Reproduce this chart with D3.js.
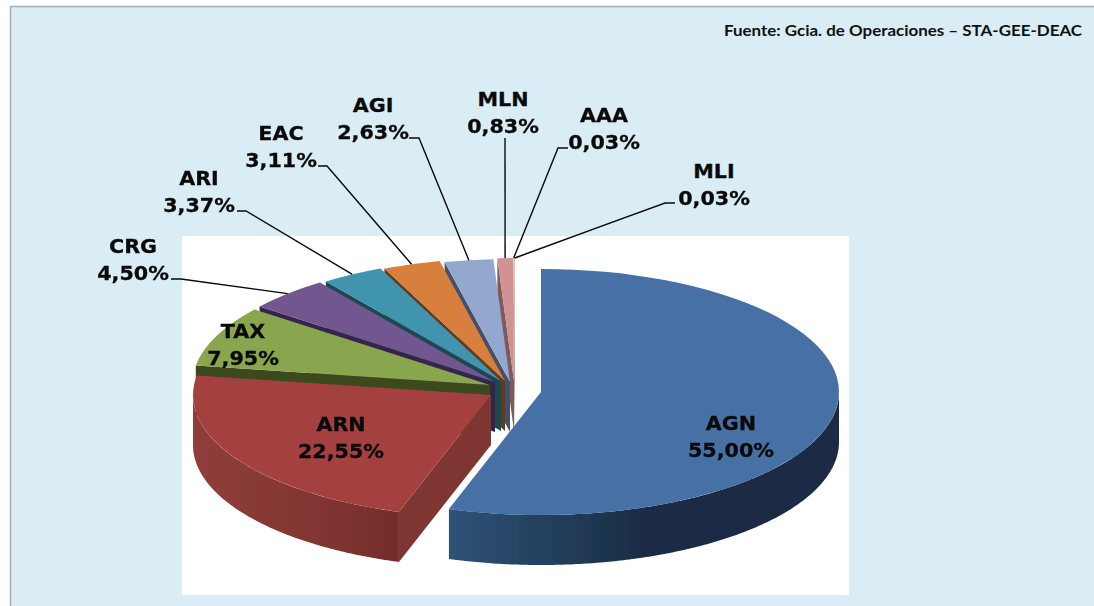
<!DOCTYPE html>
<html>
<head>
<meta charset="utf-8">
<script src="https://cdn.jsdelivr.net/npm/d3@7"></script>
<style>
  html, body { margin: 0; padding: 0; background: #fff; overflow: hidden; }
  svg { display: block; }
</style>
</head>
<body>
<div id="chart"></div>
<script>
// values
const categories = ["AGN", "ARN", "TAX", "CRG", "ARI", "EAC", "AGI", "MLN", "AAA", "MLI"];
const shares = [55.00, 22.55, 7.95, 4.50, 3.37, 3.11, 2.63, 0.83, 0.03, 0.03];
const sourceNote = "Fuente: Gcia. de Operaciones \u2013 STA-GEE-DEAC";

// styling, same order as categories
const topColors = ["#466fa5", "#a5413f", "#89a54e", "#71578f", "#4194ae", "#d7803d", "#93a8cf", "#d09293", "#d09293", "#d09293"];
const wallColors = ["#1a2c44", "#7f3432", "#3b4a1f", "#35254a", "#1d4653", "#623a1a", "#454f68", "#7f5a5a", "#7f5a5a", "#7f5a5a"];

// layout
const width = 1094, height = 606;
const rx = 298, ry = 123, depth = 50;
const explodedCenters = [[541, 392], [491, 395], [490, 385], [495, 382], [501, 381], [505, 381], [510, 382], [514, 381], [514.5, 381], [515, 381]];
const labelAt = [[731, 430], [341, 431], [243, 338], [133, 253], [199, 185], [281, 140], [373, 112], [503, 106], [604, 122], [714, 178]];
const lineGap = 27;
// where a leader leaves its label [x, y, elbow x], null for labels sitting on the slice
const leaderStart = [null, null, null, [171, 279, 181], [237, 211, 246], [318, 166, 327], [409, 138, 419], [505, 138, 505], [568, 148, 558], [675, 203, 665]];

const pct = d3.formatLocale({decimal: ",", thousands: ".", grouping: [3], currency: ["", ""]}).format(".2f");

const svg = d3.select("#chart").append("svg").attr("width", width).attr("height", height);

// panel
svg.append("rect").attr("x", 11).attr("y", 7).attr("width", width - 11).attr("height", height - 7).attr("fill", "#daedf4");
svg.append("line").attr("x1", 10.5).attr("x2", width).attr("y1", 6.5).attr("y2", 6.5).attr("stroke", "#a6adb1").attr("stroke-width", 1.5);
svg.append("line").attr("x1", 10.5).attr("x2", 10.5).attr("y1", 6).attr("y2", height).attr("stroke", "#a6adb1").attr("stroke-width", 1.5);
svg.append("rect").attr("x", 182).attr("y", 236).attr("width", 667).attr("height", 359).attr("fill", "#fff");

svg.append("text")
  .attr("x", 724).attr("y", 36)
  .attr("textLength", 358)
  .attr("lengthAdjust", "spacingAndGlyphs")
  .style("font-family", "Lato, sans-serif")
  .style("font-weight", 700)
  .style("font-size", "16px")
  .attr("fill", "#111")
  .text(sourceNote);

const defs = svg.append("defs");
defs.append("filter").attr("id", "soft").append("feGaussianBlur").attr("stdDeviation", 0.5);

function sideGradient(id, x1, x2, stops) {
  let g = defs.append("linearGradient").attr("id", id)
    .attr("gradientUnits", "userSpaceOnUse")
    .attr("x1", x1).attr("x2", x2).attr("y1", 0).attr("y2", 0);
  stops.forEach(s => g.append("stop").attr("offset", s[0]).attr("stop-color", s[1]));
}
sideGradient("wallAGN", 449, 838, [[0, "#2f5276"], [0.25, "#24405f"], [0.5, "#1a2c44"], [1, "#1a2c44"]]);
sideGradient("wallARN", 194, 399, [[0, "#8f3e3b"], [0.6, "#823531"], [1, "#722d2b"]]);

const pieData = d3.pie().sort(null).startAngle(0).endAngle(2 * Math.PI)(shares);
const faceArc = d3.arc().innerRadius(0).outerRadius(rx);

function rim(c, a, dy) {
  return [c[0] + rx * Math.sin(a), c[1] - ry * Math.cos(a) + dy];
}

const chartGroup = svg.append("g").attr("filter", "url(#soft)");

// back slices first, AGN and ARN end up on top
const drawOrder = d3.range(1, categories.length).reverse().concat(0);

drawOrder.forEach(i => {
  let d = pieData[i];
  let c = explodedCenters[i];
  let g = chartGroup.append("g").attr("class", "slice");

  // flat wall on the start edge, only seen on the left half
  if (d.startAngle > Math.PI) {
    let s = rim(c, d.startAngle, 0);
    g.append("path")
      .attr("d", d3.line()([c, s, [s[0], s[1] + depth], [c[0], c[1] + depth]]))
      .attr("fill", wallColors[i]);
  }

  // curved wall, the part facing the viewer
  let a0 = Math.max(d.startAngle, Math.PI / 2);
  let a1 = Math.min(d.endAngle, 3 * Math.PI / 2);
  if (a1 > a0) {
    let steps = d3.range(a0, a1, 0.01).concat(a1);
    let pts = steps.map(a => rim(c, a, 0)).concat(steps.slice().reverse().map(a => rim(c, a, depth)));
    g.append("path")
      .attr("d", d3.line()(pts) + "Z")
      .attr("fill", `url(#wall${categories[i]})`);
  }

  g.append("path")
    .attr("transform", `translate(${c[0]},${c[1]}) scale(1,${ry / rx})`)
    .attr("d", faceArc(d))
    .attr("fill", topColors[i]);
});

// leaders
const leaders = svg.append("g").attr("fill", "none").attr("stroke", "#0a0a0a").attr("stroke-width", 1.4);
categories.forEach((name, i) => {
  if (!leaderStart[i]) return;
  let d = pieData[i];
  let s = leaderStart[i];
  let end = rim(explodedCenters[i], (d.startAngle + d.endAngle) / 2, 0);
  leaders.append("path").attr("d", d3.line()([[s[0], s[1]], [s[2], s[1]], end]));
});

// labels, squeezed a little in height like the original
const labels = svg.append("g")
  .attr("text-anchor", "middle")
  .attr("fill", "#0a0a0a")
  .attr("stroke", "#0a0a0a")
  .attr("stroke-width", 0.3)
  .style("font-family", "'DejaVu Sans', sans-serif")
  .style("font-weight", 700)
  .style("font-size", "20.7px");
categories.forEach((name, i) => {
  let p = labelAt[i];
  labels.append("text").attr("transform", `translate(${p[0]},${p[1]}) scale(1,0.92)`).text(name);
  labels.append("text").attr("transform", `translate(${p[0]},${p[1] + lineGap}) scale(1,0.92)`).text(pct(shares[i]) + "%");
});
</script>
</body>
</html>
